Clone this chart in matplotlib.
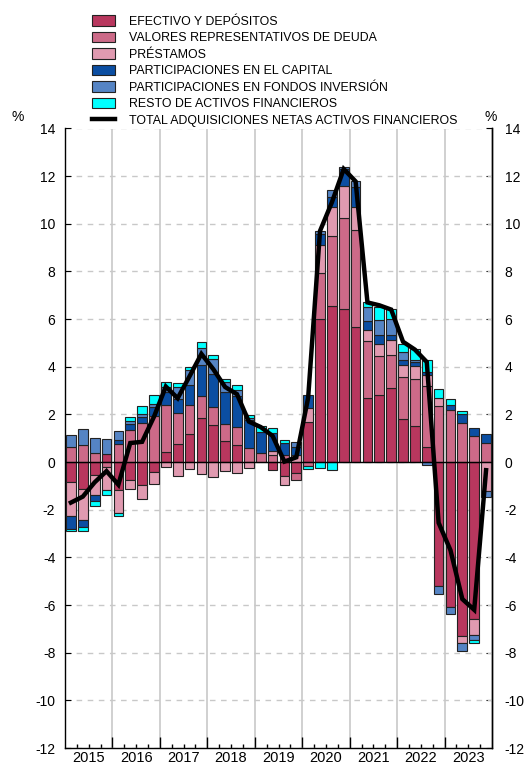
import matplotlib.pyplot as plt
import numpy as np

years = ['2015', '2016', '2017', '2018', '2019', '2020', '2021', '2022', '2023']

# quarterly contributions, 2015 Q1 .. 2023 Q4 (%)
efectivo = [-0.84, -1.15, -0.56, 0.35, -1.16, -0.77, -0.98, -0.42,
            0.41, 0.76, 1.18, 1.85, 1.57, 0.90, 0.70, 0.00,
            0.00, -0.32, -0.60, -0.47, 1.68, 6.02, 6.55, 6.44,
            5.66, 2.69, 2.83, 3.11, 1.81, 1.50, 0.62, -5.20,
            -6.08, -7.30, -6.58, 0.00]
valores = [0.63, 0.70, 0.38, -0.20, 0.74, 1.33, 1.64, 1.95,
           1.97, 1.30, 1.23, 0.94, 0.73, 0.71, 0.77, 0.59,
           0.36, 0.30, 0.28, -0.28, -0.17, 1.90, 2.95, 3.80,
           4.07, 2.41, 1.64, 1.40, 1.76, 2.00, 2.56, 2.37,
           2.18, 1.65, 1.10, 0.81]
prestamos = [-1.44, -1.27, -0.84, -0.98, -0.98, -0.35, -0.56, -0.49,
             -0.21, -0.60, -0.30, -0.49, -0.63, -0.39, -0.46, -0.25,
             0.00, 0.16, -0.35, 0.30, 0.60, 1.20, 1.20, 1.35,
             0.97, 0.43, 0.50, 0.63, 0.52, 0.55, 0.46, 0.32,
             0.00, -0.28, -0.66, -1.22]
capital = [-0.52, -0.31, -0.25, 0.00, 0.20, 0.25, 0.25, 0.35,
           0.55, 0.59, 0.84, 1.30, 1.41, 1.32, 1.29, 1.16,
           0.90, 0.74, 0.50, 0.35, 0.55, 0.45, 0.42, 0.70,
           0.85, 0.38, 0.38, 0.21, 0.21, 0.14, 0.13, 0.00,
           0.20, 0.35, 0.33, 0.36]
fondos = [0.49, 0.67, 0.64, 0.63, 0.36, 0.14, 0.14, 0.15,
          0.20, 0.50, 0.63, 0.70, 0.62, 0.42, 0.28, 0.10,
          0.00, 0.00, 0.00, 0.20, 0.00, 0.13, 0.28, 0.10,
          0.25, 0.60, 0.63, 0.66, 0.31, 0.11, -0.11, -0.34,
          -0.31, -0.33, -0.21, -0.26]
resto = [-0.10, -0.17, -0.21, -0.20, -0.11, 0.17, 0.32, 0.35,
         0.24, 0.17, 0.10, 0.24, 0.18, 0.15, 0.18, 0.11,
         0.25, 0.22, 0.15, 0.00, -0.10, -0.24, -0.34, 0.00,
         0.00, 0.20, 0.53, 0.42, 0.36, 0.45, 0.50, 0.38,
         0.25, 0.15, -0.16, 0.00]
total = [-1.70, -1.45, -0.85, -0.38, -0.95, 0.80, 0.85, 1.90,
         3.17, 2.68, 3.60, 4.54, 3.90, 3.15, 2.85, 1.70,
         1.47, 1.10, 0.02, 0.20, 2.70, 9.70, 10.90, 12.30,
         11.78, 6.70, 6.58, 6.40, 5.05, 4.72, 4.20, -2.55,
         -3.70, -5.75, -6.20, -0.34]

names = ['EFECTIVO Y DEPÓSITOS', 'VALORES REPRESENTATIVOS DE DEUDA', 'PRÉSTAMOS',
         'PARTICIPACIONES EN EL CAPITAL', 'PARTICIPACIONES EN FONDOS INVERSIÓN',
         'RESTO DE ACTIVOS FINANCIEROS']
total_name = 'TOTAL ADQUISICIONES NETAS ACTIVOS FINANCIEROS'
colors = ['#b8375e', '#cc6a88', '#e09ab0', '#0b4ea2', '#5584c4', '#00ffff']


def main():
    plt.rcParams['font.family'] = ['Liberation Sans', 'DejaVu Sans']
    plt.rcParams['axes.unicode_minus'] = False

    fig = plt.figure(figsize=(5.26, 7.65), dpi=100)
    ax = fig.add_axes([65 / 526, 17 / 765, 427 / 526, 619.5 / 765])

    n = len(total)
    x = np.arange(n)
    pos_base = np.zeros(n)
    neg_base = np.zeros(n)
    handles = []
    for vals, col in zip([efectivo, valores, prestamos, capital, fondos, resto], colors):
        v = np.array(vals)
        # positives stack up from zero, negatives stack down
        for part, base in ((np.where(v > 0, v, 0), pos_base), (np.where(v < 0, v, 0), neg_base)):
            m = part != 0
            ax.bar(x[m], part[m], 0.82, bottom=base[m], color=col,
                   edgecolor='#222222', linewidth=0.8, zorder=3)
            base += part
        handles.append(plt.Rectangle((0, 0), 1, 1, facecolor=col, edgecolor='#222222', linewidth=0.8))

    ax.axhline(0, color='black', lw=1, zorder=4)
    ln, = ax.plot(x, total, color='black', lw=3.2, zorder=5, solid_joinstyle='miter')

    ax.set_xlim(-0.5, n - 0.5)
    ax.set_ylim(-12, 14)
    yt = list(range(-12, 15, 2))
    ax.set_yticks(yt)
    ax.yaxis.grid(True, linestyle=(0, (4, 4)), color='#c8c8c8', lw=1)

    bounds = [4 * k - 0.5 for k in range(1, len(years))]
    ax.set_xticks(bounds, [''] * len(bounds))
    ax.xaxis.grid(True, which='major', color='#c8c8c8', lw=1.2)
    minor = [q + 0.5 for q in range(n - 1) if (q + 1) % 4 != 0]
    minor_labels = [years[int(p // 4)] if (p - 1.5) % 4 == 0 else '' for p in minor]
    ax.set_xticks(minor, minor_labels, minor=True)
    ax.tick_params(axis='x', which='major', direction='in', length=8, width=1)
    ax.tick_params(axis='x', which='minor', direction='in', length=3, width=1, pad=2, labelsize=10.5)
    ax.tick_params(axis='y', direction='in', length=4, labelsize=10, pad=7)
    ax.set_axisbelow(True)

    sec = ax.secondary_yaxis('right')
    sec.set_yticks(yt)
    sec.tick_params(direction='in', length=4, labelsize=10, pad=9)
    sec.spines['right'].set_linewidth(1)

    ax.spines['top'].set_visible(False)
    for s in ('left', 'right', 'bottom'):
        ax.spines[s].set_linewidth(1)

    fig.text(18 / 526, 1 - 117 / 765, '%', ha='center', va='center', fontsize=10)
    fig.text(491 / 526, 1 - 117 / 765, '%', ha='center', va='center', fontsize=10)

    fig.legend(handles + [ln], names + [total_name], loc='upper left',
               bbox_to_anchor=(92 / 526, 1 - 15 / 765), frameon=False, fontsize=8.9,
               handlelength=1.9, handleheight=0.95, handletextpad=1.1, labelspacing=0.32,
               borderpad=0, borderaxespad=0)

    fig.savefig('out.png', dpi=100)


if __name__ == "__main__":
    main()
